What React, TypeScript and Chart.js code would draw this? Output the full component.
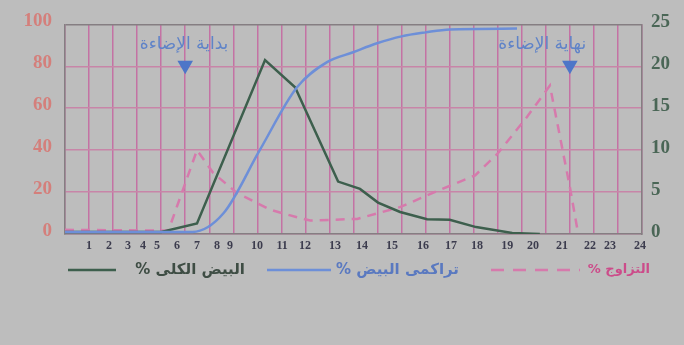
import { useEffect, useRef } from 'react';
import { Chart, registerables } from 'chart.js';

Chart.register(...registerables);

// Hour labels and where they sit along the gridded time axis (grid units 0..24)
const hourLabels = ['1', '2', '3', '4', '5', '6', '7', '8', '9', '10', '11', '12', '13', '14', '15', '16', '17', '18', '19', '20', '21', '22', '23', '24'];
const hourLabelPos = [1.0, 1.83, 2.62, 3.24, 3.83, 4.66, 5.49, 6.32, 6.86, 7.99, 9.03, 9.98, 11.23, 12.35, 13.6, 14.89, 16.06, 17.14, 18.39, 19.47, 20.67, 21.84, 22.67, 23.92];

// Total eggs %  (left axis)
const totalX = [0, 4, 5.49, 8.32, 9.57, 11.36, 12.27, 13.02, 13.94, 15.06, 16.0, 17.1, 18.6, 19.75];
const totalEggs = [1, 1, 5, 83, 70, 25, 21.5, 15, 10.5, 7, 6.8, 3.3, 0.5, 0];

// Cumulative eggs %  (left axis)
const cumX = [0, 5.3, 6.6, 8.1, 9.65, 10.9, 11.98, 12.98, 14.0, 15.0, 16.0, 18.8];
const cumEggs = [1, 1, 10, 40, 70, 82, 86.7, 91, 94.3, 96.2, 97.6, 98];

// Mating %  (right axis)
const matingX = [0, 4.3, 5.49, 6.16, 7.15, 8.53, 9.65, 10.2, 12.15, 13.93, 15.3, 17.06, 18.0, 19.2, 20.17, 21.0, 21.34];
const mating = [0.5, 0.4, 10, 7.3, 4.9, 2.9, 2.0, 1.6, 1.8, 3.2, 4.9, 7.0, 9.6, 13.9, 17.7, 5.6, 0.1];

// Lights on / lights off markers
const lightX = [5, 21];
const lightMarkerY = 80.5;
const lightLabels = ['بداية الإضاءة', 'نهاية الإضاءة'];
const lightLabelX = [4.95, 19.85];
const lightLabelY = 90.5;

// Legend
const legendLabels = ['البيض الكلى %', 'تراكمى البيض %', 'التزاوج %'];

const GREEN = '#3d5f4d';
const BLUE = '#6d8fd8';
const PINK = '#d67aac';
const BG = '#bdbdbd';
const AXIS = '#857e82';
const GRID_V = '#c472a4';
const GRID_H = '#c885a8';

const zip = (xs: number[], ys: number[]) => xs.map((x, i) => ({ x, y: ys[i] }));

const overlayText = {
  id: 'overlayText',
  afterDatasetsDraw(chart: any) {
    const { ctx, scales } = chart;
    const xs = scales.x;
    const ys = scales.y;
    ctx.save();
    ctx.direction = 'rtl';
    ctx.textBaseline = 'middle';

    // lights on / off captions
    ctx.font = '17px "DejaVu Sans"';
    ctx.fillStyle = '#5f83c8';
    ctx.textAlign = 'center';
    lightLabels.forEach((t, i) => {
      ctx.fillText(t, xs.getPixelForValue(lightLabelX[i]), ys.getPixelForValue(lightLabelY));
    });

    // legend row
    const ly = 270;
    const items = [
      { line: [68, 116], textRight: 245, color: GREEN, textColor: '#3e4d44', dash: [] as number[], size: 15 },
      { line: [267, 331], textRight: 459, color: BLUE, textColor: '#5a79c0', dash: [] as number[], size: 15 },
      { line: [491, 580], textRight: 650, color: PINK, textColor: '#cc4c8a', dash: [13, 9], size: 13 },
    ];
    items.forEach((it, i) => {
      ctx.beginPath();
      ctx.setLineDash(it.dash);
      ctx.strokeStyle = it.color;
      ctx.lineWidth = 2.5;
      ctx.moveTo(it.line[0], ly);
      ctx.lineTo(it.line[1], ly);
      ctx.stroke();
      ctx.setLineDash([]);
      ctx.font = `bold ${it.size}px "DejaVu Sans"`;
      ctx.fillStyle = it.textColor;
      ctx.textAlign = 'right';
      ctx.fillText(legendLabels[i], it.textRight, ly);
    });
    ctx.restore();
  },
};

export default function App() {
  const ref = useRef<HTMLCanvasElement>(null);

  useEffect(() => {
    const canvas = ref.current;
    if (!canvas) return;
    const chart = new Chart(canvas, {
      type: 'line',
      data: {
        datasets: [
          {
            label: legendLabels[1],
            data: zip(cumX, cumEggs),
            borderColor: BLUE,
            borderWidth: 2.5,
            pointRadius: 0,
            cubicInterpolationMode: 'monotone',
            xAxisID: 'x',
            yAxisID: 'y',
          },
          {
            label: legendLabels[0],
            data: zip(totalX, totalEggs),
            borderColor: GREEN,
            borderWidth: 2.5,
            pointRadius: 0,
            tension: 0,
            xAxisID: 'x',
            yAxisID: 'y',
          },
          {
            label: legendLabels[2],
            data: zip(matingX, mating),
            borderColor: PINK,
            borderWidth: 2.5,
            borderDash: [9, 7],
            pointRadius: 0,
            tension: 0,
            xAxisID: 'x',
            yAxisID: 'y2',
          },
          {
            label: 'light',
            data: lightX.map((x) => ({ x, y: lightMarkerY })),
            showLine: false,
            pointStyle: 'triangle',
            rotation: 180,
            pointRadius: 9,
            pointBackgroundColor: '#4d76c8',
            pointBorderWidth: 0,
            xAxisID: 'x',
            yAxisID: 'y',
          },
        ],
      },
      options: {
        responsive: false,
        devicePixelRatio: 1,
        animation: false,
        layout: { padding: { top: 24, bottom: 89, left: 0, right: 0 } },
        plugins: { legend: { display: false }, tooltip: { enabled: false } },
        scales: {
          x: {
            type: 'linear',
            axis: 'x',
            position: 'bottom',
            weight: 0,
            min: 0,
            max: 24,
            ticks: { display: false, stepSize: 1 },
            grid: { color: GRID_V, lineWidth: 1.5, drawTicks: false },
            border: { color: AXIS, width: 1.5 },
            afterFit: (s: any) => { s.height = 0; },
          },
          xl: {
            type: 'linear',
            axis: 'x',
            position: 'bottom',
            weight: 1,
            min: 0,
            max: 24,
            grid: { display: false, drawTicks: false },
            border: { display: false },
            afterBuildTicks: (s: any) => { s.ticks = hourLabelPos.map((v) => ({ value: v })); },
            ticks: {
              autoSkip: false,
              maxRotation: 0,
              padding: 5,
              color: '#3c3c4e',
              font: { family: '"Liberation Serif"', size: 12, weight: 'bold' },
              callback: (_v: any, i: number) => hourLabels[i],
            },
            afterFit: (s: any) => { s.height = 22; },
          },
          y: {
            type: 'linear',
            position: 'left',
            min: 0,
            max: 100,
            ticks: {
              stepSize: 20,
              padding: 13,
              labelOffset: -3,
              color: '#d47f7b',
              font: { family: '"Liberation Serif"', size: 19, weight: 'bold' },
            },
            grid: {
              color: (c: any) => (c.tick && c.tick.value === 100 ? AXIS : GRID_H),
              lineWidth: 1.5,
              drawTicks: false,
            },
            border: { color: AXIS, width: 1.5 },
            afterFit: (s: any) => { s.width = 65; },
          },
          y2: {
            type: 'linear',
            position: 'right',
            min: 0,
            max: 25,
            ticks: {
              stepSize: 5,
              padding: 9,
              labelOffset: -2,
              color: '#4a6656',
              font: { family: '"Liberation Serif"', size: 19, weight: 'bold' },
            },
            grid: { display: false, drawTicks: false },
            border: { color: AXIS, width: 1.5 },
            afterFit: (s: any) => { s.width = 42; },
          },
        },
      },
      plugins: [overlayText],
    } as any);
    return () => chart.destroy();
  }, []);

  return (
    <div style={{ position: 'fixed', left: 0, top: 0, width: 684, height: 345, background: BG }}>
      <canvas ref={ref} width={684} height={345} style={{ display: 'block', width: 684, height: 345 }} />
    </div>
  );
}
